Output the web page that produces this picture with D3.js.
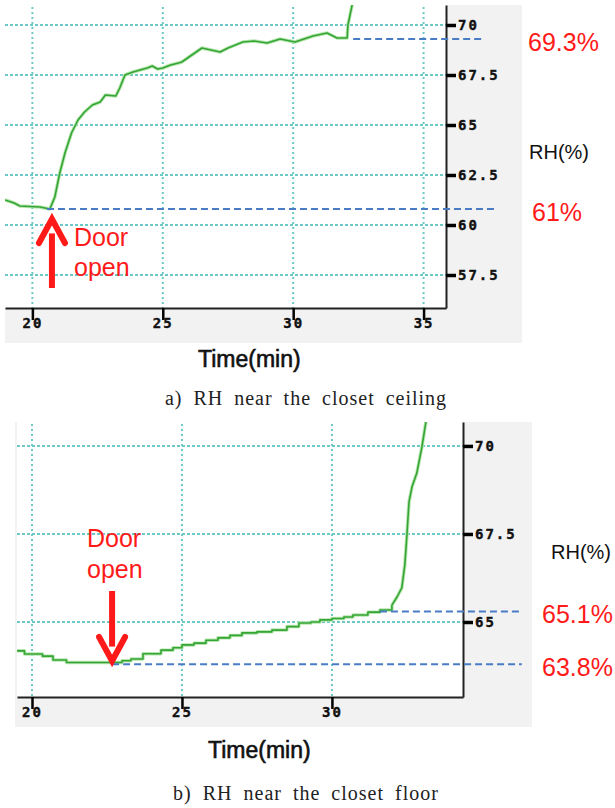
<!DOCTYPE html>
<html>
<head>
<meta charset="utf-8">
<script src="https://cdn.jsdelivr.net/npm/d3@7"></script>
<style>
  body { margin: 0; background: #fff; }
  svg { display: block; }
</style>
</head>
<body>
<div id="chart"></div>
<script>
// a) RH near the closet ceiling
const timeA = [18.95, 19.3, 19.52, 20.29, 20.67, 20.86, 21.05, 21.25, 21.5, 21.75, 22.0, 22.3, 22.6, 22.8, 23.2,
  23.35, 23.55, 23.86, 24.4, 24.6, 24.8, 25.0, 25.3, 25.6, 25.73, 26.5, 27.2, 27.5, 28.07, 28.5, 29.0, 29.5,
  30.07, 30.76, 31.3, 31.68, 32.07, 32.1, 32.26, 32.3];
const rhA = [61.25, 61.1, 60.95, 60.9, 60.8, 61.4, 62.6, 63.6, 64.6, 65.25, 65.65, 66.0, 66.15, 66.5, 66.45,
  66.85, 67.5, 67.65, 67.85, 67.95, 67.8, 67.85, 68.0, 68.1, 68.15, 68.85, 68.65, 68.85, 69.15, 69.2, 69.1, 69.3,
  69.15, 69.45, 69.6, 69.35, 69.35, 70.0, 71.0, 71.6];
const xTicksA = [20, 25, 30, 35];
const yTicksA = [57.5, 60, 62.5, 65, 67.5, 70];
const refLevelsA = [69.3, 60.8];
const refLabelsA = ["69.3%", "61%"];
const refStartA = [32.3, 20.56];
const refEndA = [37.36, 37.8];
const doorOpenA = 20.75;

// b) RH near the closet floor
const timeB = [19.5, 19.75, 20.35, 20.7, 21.15, 22.67, 23.0, 23.3, 23.7, 24.3, 24.7, 25.0, 25.4, 25.8, 26.2,
  26.6, 27.0, 27.5, 28.0, 28.5, 28.9, 29.3, 29.6, 30.0, 30.4, 30.7, 31.2, 31.6, 32.0,
  32.17, 32.33, 32.43, 32.5, 32.57, 32.67, 32.83, 33.0, 33.17, 33.3];
const rhB = [64.18, 64.09, 64.03, 63.92, 63.85, 63.85, 63.9, 63.95, 64.1, 64.2, 64.27, 64.35, 64.4, 64.48, 64.55,
  64.62, 64.69, 64.72, 64.77, 64.87, 64.97, 65.0, 65.06, 65.1, 65.14, 65.2, 65.28, 65.34, 65.48,
  65.71, 65.97, 66.62, 67.47, 68.41, 68.84, 69.23, 69.97, 70.88, 71.3];
const xTicksB = [20, 25, 30];
const yTicksB = [65, 67.5, 70];
const refLevelsB = [65.3, 63.8];
const refLabelsB = ["65.1%", "63.8%"];
const refStartB = [31.6, 22.67];
const refEndB = [36.33, 36.33];
const doorOpenB = 22.67;

const width = 615;
const height = 808;

const svg = d3.select("#chart")
  .append("svg")
  .attr("width", width)
  .attr("height", height);

const red = "#ff1a1a";

function drawPanel(p) {
  const g = svg.append("g");

  // gray screenshot frame + white plot
  g.append("rect")
    .attr("x", p.grayLeft).attr("y", p.top)
    .attr("width", p.grayRight - p.grayLeft).attr("height", p.grayBottom - p.top)
    .attr("fill", "#f2f2f2");
  g.append("rect")
    .attr("x", p.left).attr("y", p.top)
    .attr("width", p.right - p.left).attr("height", p.bottom - p.top)
    .attr("fill", "#fff");

  const x = d3.scaleLinear().domain(p.xDomain).range([p.left, p.right]);
  const y = d3.scaleLinear().domain(p.yDomain).range([p.bottom, p.top]);

  // dotted grid
  g.selectAll(".vgrid")
    .data(p.xTicks.filter(d => x(d) <= p.right))
    .enter().append("line")
    .attr("x1", d => x(d)).attr("x2", d => x(d))
    .attr("y1", p.top + 2).attr("y2", p.bottom)
    .attr("stroke", "#6cc9c5")
    .attr("stroke-width", 2)
    .attr("stroke-dasharray", "2,3");
  g.selectAll(".hgrid")
    .data(p.yTicks)
    .enter().append("line")
    .attr("x1", p.left).attr("x2", p.right)
    .attr("y1", d => y(d)).attr("y2", d => y(d))
    .attr("stroke", "#6cc9c5")
    .attr("stroke-width", 2)
    .attr("stroke-dasharray", "3,2");

  // clipped data line
  g.append("clipPath").attr("id", p.id)
    .append("rect")
    .attr("x", p.left).attr("y", p.top)
    .attr("width", p.right - p.left).attr("height", p.bottom - p.top);

  const pts = p.time.map((t, i) => ({ t: t, v: p.rh[i] }));
  const segs = p.stepUntil
    ? [{ data: pts.filter(d => d.t <= p.stepUntil), curve: d3.curveStepAfter },
       { data: pts.filter(d => d.t >= p.stepUntil), curve: d3.curveLinear }]
    : [{ data: pts, curve: d3.curveLinear }];

  const lineG = g.append("g").attr("clip-path", `url(#${p.id})`);
  segs.forEach(s => {
    const line = d3.line().x(d => x(d.t)).y(d => y(d.v)).curve(s.curve);
    lineG.append("path").datum(s.data)
      .attr("d", line).attr("fill", "none")
      .attr("stroke", "#b6e6ae").attr("stroke-width", 3.5)
      .attr("stroke-linejoin", "round");
    lineG.append("path").datum(s.data)
      .attr("d", line).attr("fill", "none")
      .attr("stroke", "#35a535").attr("stroke-width", 1.6)
      .attr("stroke-linejoin", "round");
  });

  // axes
  const yAxis = g.append("g")
    .attr("transform", `translate(${p.right},0)`)
    .call(d3.axisRight(y).tickValues(p.yTicks).tickSize(10).tickSizeOuter(0).tickPadding(2)
      .tickFormat(d => String(d)));
  const xAxis = g.append("g")
    .attr("transform", `translate(0,${p.bottom})`)
    .call(d3.axisBottom(x).tickValues(p.xTicks).tickSize(12).tickSizeOuter(0).tickPadding(-2)
      .tickFormat(d => String(d)));

  [yAxis, xAxis].forEach(a => {
    a.select(".domain").attr("stroke", "#222").attr("stroke-width", 2);
    a.selectAll("text")
      .attr("fill", "#111")
      .attr("stroke", "#111")
      .attr("stroke-width", 0.4)
      .style("font-family", "'DejaVu Sans Mono', monospace")
      .style("font-weight", "bold")
      .style("font-size", "14px")
      .style("letter-spacing", "2px");
  });
  yAxis.selectAll(".tick line").attr("stroke", "#000").attr("stroke-width", 3.5);
  xAxis.selectAll(".tick line").attr("stroke", "#000").attr("stroke-width", 2.5);
  xAxis.selectAll(".tick").each(function () { d3.select(this).select("line").raise(); });

  // reference dashed levels
  g.selectAll(".ref")
    .data(p.refLevels)
    .enter().append("line")
    .attr("x1", (d, i) => x(p.refStart[i])).attr("x2", (d, i) => x(p.refEnd[i]))
    .attr("y1", d => y(d)).attr("y2", d => y(d))
    .attr("stroke", "#4a7cc6")
    .attr("stroke-width", 2)
    .attr("stroke-dasharray", "7,4");

  g.selectAll(".refLabel")
    .data(p.refLevels)
    .enter().append("text")
    .attr("x", (d, i) => p.refLabelX[i])
    .attr("y", d => y(d) + 12)
    .attr("fill", red)
    .style("font-family", "'Liberation Sans', Arial, sans-serif")
    .style("font-size", "25px")
    .text((d, i) => p.refLabels[i]);

  // axis titles
  g.append("text")
    .attr("x", p.rhLabelX).attr("y", p.rhLabelY)
    .attr("fill", "#111")
    .style("font-family", "'Liberation Sans', Arial, sans-serif")
    .style("font-size", "20px")
    .text("RH(%)");
  g.append("text")
    .attr("x", p.timeLabelX).attr("y", p.timeLabelY)
    .attr("fill", "#111")
    .attr("stroke", "#111")
    .attr("stroke-width", 0.6)
    .style("font-family", "'Liberation Sans', Arial, sans-serif")
    .style("font-size", "23px")
    .text("Time(min)");

  // door open arrow + text
  const ax = x(p.doorOpen);
  const dir = p.arrowUp ? -1 : 1;
  const tip = p.arrowTip, tail = p.arrowTail;
  const headLen = 24, headW = 13;
  g.append("line")
    .attr("x1", ax).attr("x2", ax)
    .attr("y1", tail).attr("y2", tip - dir * headLen * 0.6)
    .attr("stroke", red).attr("stroke-width", 6);
  g.append("path")
    .attr("d", `M${ax - headW},${tip - dir * headLen} L${ax},${tip} L${ax + headW},${tip - dir * headLen}`)
    .attr("fill", "none")
    .attr("stroke", red)
    .attr("stroke-width", 6)
    .attr("stroke-linecap", "round")
    .attr("stroke-linejoin", "miter");

  ["Door", "open"].forEach((w, i) => {
    g.append("text")
      .attr("x", p.doorTextX).attr("y", p.doorTextY[i])
      .attr("fill", red)
      .style("font-family", "'Liberation Sans', Arial, sans-serif")
      .style("font-size", "25px")
      .text(w);
  });

  // caption
  g.append("text")
    .attr("x", 306).attr("y", p.captionY)
    .attr("text-anchor", "middle")
    .attr("fill", "#222")
    .style("font-family", "'Liberation Serif', 'Times New Roman', serif")
    .style("font-size", "20px")
    .style("letter-spacing", "1px")
    .style("word-spacing", "5px")
    .text(p.caption);
}

drawPanel({
  id: "clipA",
  grayLeft: 5, left: 5, right: 446, top: 5, bottom: 308, grayRight: 522, grayBottom: 343,
  xDomain: [18.95, 35.86], yDomain: [55.85, 71.0],
  time: timeA, rh: rhA, xTicks: xTicksA, yTicks: yTicksA,
  refLevels: refLevelsA, refLabels: refLabelsA, refStart: refStartA, refEnd: refEndA,
  refLabelX: [528, 532],
  rhLabelX: 529, rhLabelY: 159,
  timeLabelX: 198, timeLabelY: 367,
  doorOpen: doorOpenA, arrowUp: true, arrowTip: 219, arrowTail: 288,
  doorTextX: 74, doorTextY: [246, 276],
  caption: "a) RH near the closet ceiling", captionY: 405
});

drawPanel({
  id: "clipB",
  grayLeft: 15, left: 17, right: 463, top: 422, bottom: 697, grayRight: 532, grayBottom: 727,
  xDomain: [19.5, 34.37], yDomain: [62.87, 70.68],
  time: timeB, rh: rhB, xTicks: xTicksB, yTicks: yTicksB, stepUntil: 32.0,
  refLevels: refLevelsB, refLabels: refLabelsB, refStart: refStartB, refEnd: refEndB,
  refLabelX: [542, 542],
  rhLabelX: 551, rhLabelY: 559,
  timeLabelX: 208, timeLabelY: 758,
  doorOpen: doorOpenB, arrowUp: false, arrowTip: 661, arrowTail: 591,
  doorTextX: 87, doorTextY: [547, 578],
  caption: "b) RH near the closet floor", captionY: 800
});
</script>
</body>
</html>
